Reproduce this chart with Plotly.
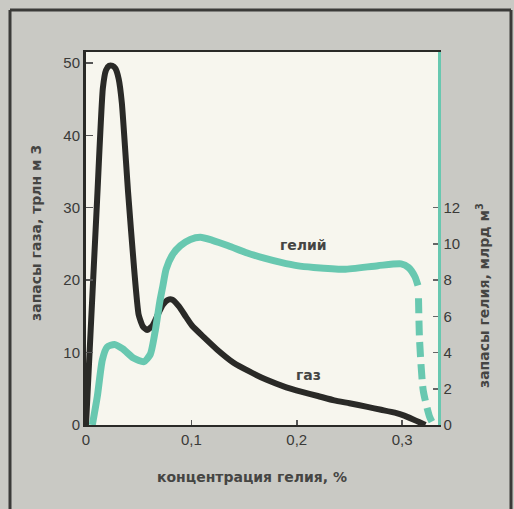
import plotly.graph_objects as go

# ---- data ----
gas_x = [0.0, 0.005, 0.0105, 0.016, 0.019, 0.022, 0.025, 0.028, 0.031, 0.034,
         0.040, 0.0457, 0.050, 0.054, 0.058, 0.063, 0.068, 0.073, 0.078, 0.082,
         0.088, 0.095, 0.1007, 0.112, 0.1245, 0.140, 0.155, 0.172, 0.190, 0.204,
         0.220, 0.2355, 0.250, 0.267, 0.280, 0.293, 0.302, 0.310, 0.316, 0.322]
gas_y = [0.0, 14.8, 31.0, 46.5, 49.0, 49.6, 49.6, 49.2, 47.8, 44.5,
         32.0, 21.5, 15.2, 13.6, 13.1, 13.7, 15.2, 16.6, 17.3, 17.3,
         16.4, 14.9, 13.7, 12.1, 10.4, 8.6, 7.4, 6.2, 5.2, 4.6,
         4.0, 3.4, 3.0, 2.5, 2.1, 1.7, 1.3, 0.8, 0.4, 0.0]

he_x = [0.006, 0.0108, 0.0155, 0.020, 0.027, 0.035, 0.045, 0.055, 0.061, 0.066,
        0.070, 0.073, 0.076, 0.082, 0.0895, 0.099, 0.1086, 0.120, 0.135, 0.153,
        0.170, 0.185, 0.200, 0.216, 0.245, 0.277, 0.299, 0.306, 0.312, 0.315]
he_y = [0.0, 1.6, 3.6, 4.3, 4.45, 4.2, 3.7, 3.5, 3.9, 5.3,
        6.8, 7.7, 8.6, 9.4, 9.9, 10.25, 10.37, 10.2, 9.9, 9.5,
        9.2, 8.98, 8.8, 8.7, 8.6, 8.8, 8.9, 8.7, 8.2, 7.7]

he_dash_x = [0.3155, 0.3165, 0.320, 0.326, 0.330]
he_dash_y = [7.0, 4.7, 1.9, 0.46, 0.0]

x_ticks = [0, 0.1, 0.2, 0.3]
x_ticklabels = ["0", "0,1", "0,2", "0,3"]
gas_ticks = [0, 10, 20, 30, 40, 50]
he_ticks = [0, 2, 4, 6, 8, 10, 12]

GAS_C = "#2a2a27"
HE_C = "#68c8b0"
TXT = "#3a3a38"
FONT = "Liberation Sans"
TFONT = dict(size=14, color="#454543", family="DejaVu Sans", weight="bold")

fig = go.Figure()
fig.add_trace(go.Scatter(x=he_x, y=he_y, yaxis="y2", mode="lines",
                         line=dict(color=HE_C, width=7, shape="spline", smoothing=0.6)))
fig.add_trace(go.Scatter(x=he_dash_x, y=he_dash_y, yaxis="y2", mode="lines",
                         line=dict(color=HE_C, width=7, shape="spline", smoothing=0.6,
                                   dash="15px,7px")))
fig.add_trace(go.Scatter(x=gas_x, y=gas_y, mode="lines",
                         line=dict(color=GAS_C, width=6, shape="spline", smoothing=0.5)))

fig.update_layout(
    width=514, height=509,
    margin=dict(l=86, r=76, t=52, b=84),
    paper_bgcolor="#c9c9c4",
    plot_bgcolor="#f7f6ee",
    showlegend=False,
    hovermode=False,
    font=dict(family=FONT, color=TXT, size=15),
    xaxis=dict(range=[0, 0.334], tickvals=x_ticks, ticktext=x_ticklabels,
               showgrid=False, zeroline=False, showline=True, linecolor=GAS_C,
               linewidth=2, mirror=True, ticks="inside", ticklen=5, tickwidth=1.5,
               tickcolor="#555", tickfont=dict(size=15, color=TXT)),
    yaxis=dict(range=[0, 51.5], tickvals=gas_ticks, showgrid=False, zeroline=False,
               showline=True, linecolor=GAS_C, linewidth=3, ticks="inside",
               ticklen=7, tickwidth=1.5, tickcolor="#555",
               tickfont=dict(size=15, color=TXT)),
    yaxis2=dict(range=[0, 51.5 / 2.5], tickvals=he_ticks, overlaying="y", side="right",
                showgrid=False, zeroline=False, showline=True, linecolor=HE_C,
                linewidth=2.5, ticks="inside", ticklen=5, tickwidth=1.5,
                tickcolor="#666", tickfont=dict(size=15, color=TXT)),
)

anns = [
    dict(text="гелий", x=0.2067, y=24.9, xref="x", yref="y", font=TFONT),
    dict(text="газ", x=0.2114, y=6.9, xref="x", yref="y", font=TFONT),
    dict(text="концентрация гелия, %", x=0.4716, y=-0.139, xref="paper", yref="paper",
         font=TFONT),
    dict(text="запасы газа, трлн м 3", x=-0.142, y=0.515, xref="paper", yref="paper",
         textangle=-90, font=TFONT),
    dict(text="запасы гелия, млрд м<sup>3</sup>", x=1.128, y=0.346, xref="paper", yref="paper",
         textangle=-90, font=TFONT),
]
for a in anns:
    a.update(showarrow=False, xanchor="center", yanchor="middle")
    fig.add_annotation(**a)

# outer frame of the printed figure
for x0, y0, x1, y1 in [(-0.2159, 1.1126, 1.2074, 1.1126),
                       (-0.2159, 1.1126, -0.2159, -0.3),
                       (1.2074, 1.1126, 1.2074, -0.3)]:
    fig.add_shape(type="line", xref="paper", yref="paper", x0=x0, y0=y0, x1=x1, y1=y1,
                  line=dict(color="#3a3a38", width=3))

fig.write_html("out.html", config={"displayModeBar": False, "staticPlot": True},
               post_script="document.body.style.margin='0';document.body.style.overflow='hidden';")
